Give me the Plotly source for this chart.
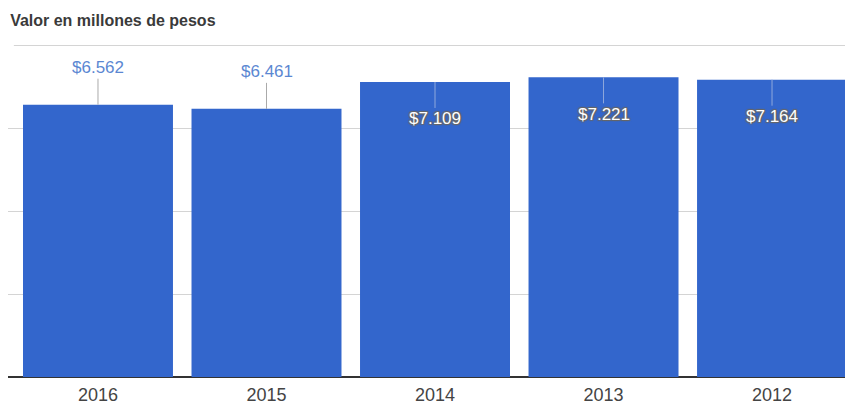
import plotly.graph_objects as go

years = ["2016", "2015", "2014", "2013", "2012"]
values = [6562, 6461, 7109, 7221, 7164]
inside = [False, False, True, True, True]
labels = ["$" + f"{v:,}".replace(",", ".") for v in values]

BLUE = "#3366cc"

fig = go.Figure(go.Bar(x=years, y=values, marker=dict(color=BLUE, line=dict(width=0)),
                       hoverinfo="skip"))

for i, (v, lab, ins) in enumerate(zip(values, labels, inside)):
    if ins:
        fig.add_annotation(x=i, y=v, xref="x", yref="y", text=lab, showarrow=True,
                           arrowhead=0, arrowwidth=1, arrowcolor="#8fa8dc", ax=0, ay=37,
                           font=dict(family="Liberation Sans, Arial", size=17, color="white",
                                     shadow="1px 1px 1px #666, -1px -1px 1px #666, "
                                            "1px -1px 1px #666, -1px 1px 1px #666"))
    else:
        fig.add_annotation(x=i, y=v, xref="x", yref="y", text=lab, showarrow=True,
                           arrowhead=0, arrowwidth=1, arrowcolor="#aaaaaa", ax=0, ay=-37,
                           font=dict(family="Liberation Sans, Arial", size=17, color="#5b87d2"))

fig.add_shape(type="line", xref="paper", yref="y", x0=0.007, x1=1, y0=8000, y1=8000,
              line=dict(color="#d4d4d4", width=2), layer="below")

fig.update_layout(
    width=845, height=410,
    margin=dict(l=8, r=0, t=45, b=33),
    paper_bgcolor="white", plot_bgcolor="white",
    bargap=0.11,
    showlegend=False,
    title=dict(text="<b>Valor en millones de pesos</b>", x=0.012, xanchor="left",
               y=0.95, yanchor="middle",
               font=dict(family="Liberation Sans, Arial", size=16, color="#3a3a3a")),
    xaxis=dict(type="category", range=[-0.534, 4.433], showgrid=False, showline=False,
               ticks="", ticklabelstandoff=5,
               tickfont=dict(family="Liberation Sans, Arial", size=18, color="#444")),
    yaxis=dict(range=[0, 8000], dtick=2000, showticklabels=False, showgrid=True,
               gridcolor="#d4d4d4", gridwidth=1, zeroline=True, zerolinecolor="#333",
               zerolinewidth=2, showline=False, fixedrange=True),
)

fig.write_html("out.html")
